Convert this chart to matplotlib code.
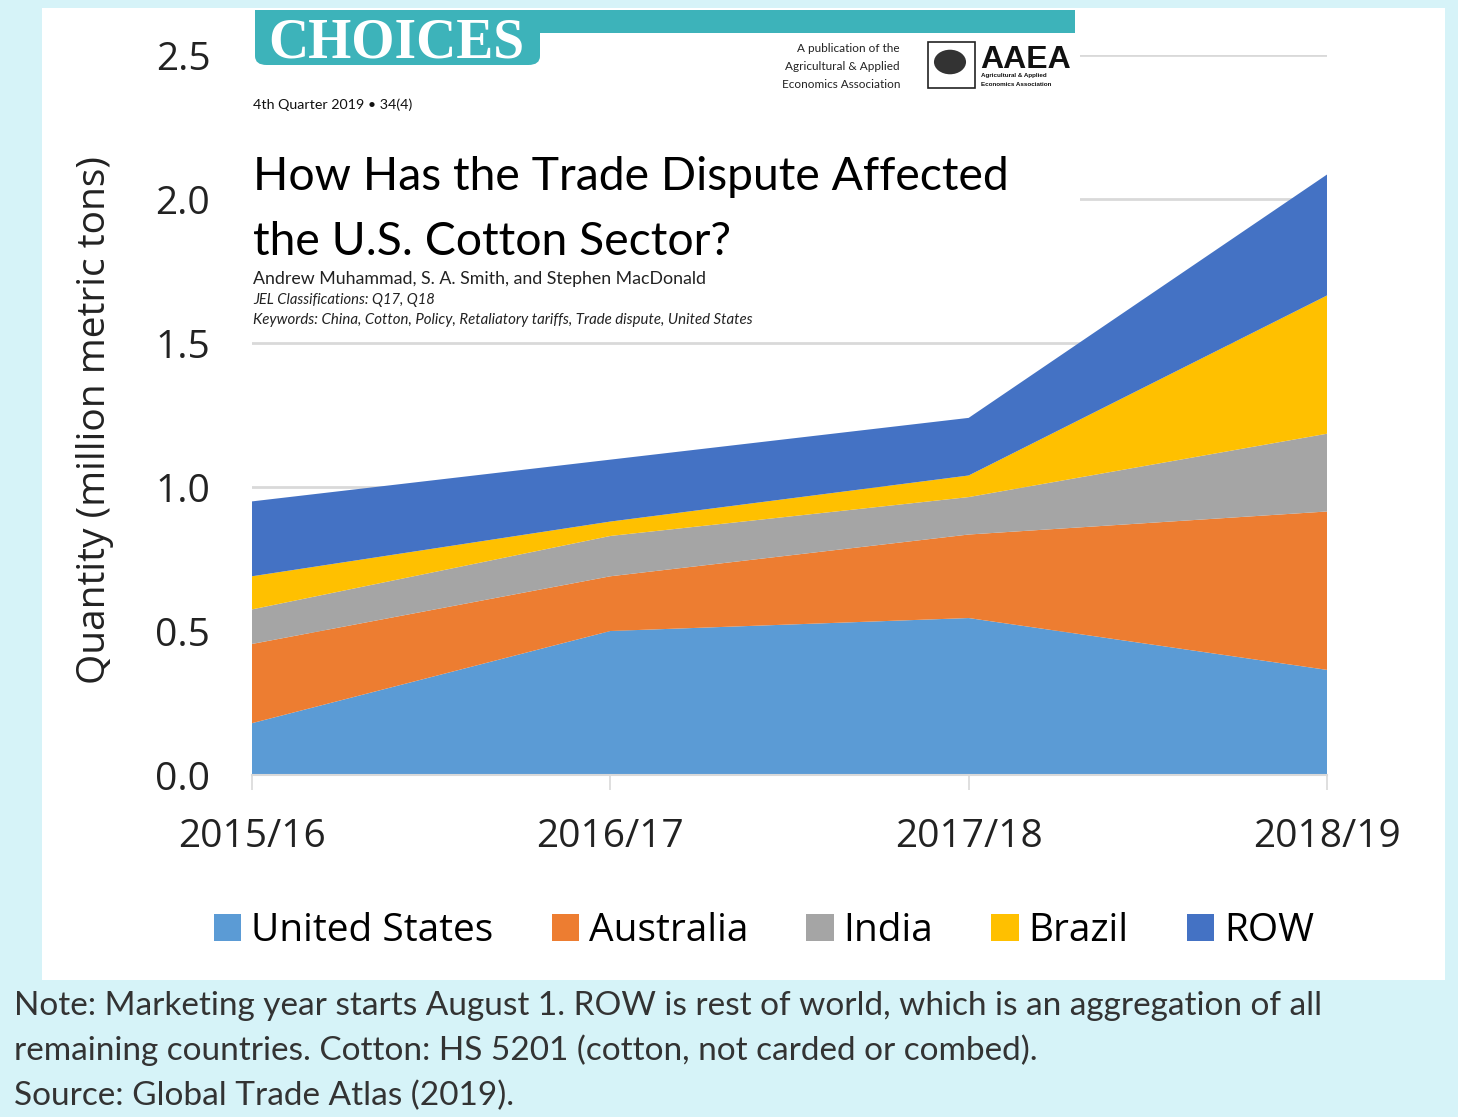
import matplotlib
matplotlib.use("Agg")
import matplotlib.pyplot as plt
from matplotlib.patches import Rectangle, FancyBboxPatch, Patch, Circle

# cotton imports by origin, million metric tons
years = ["2015/16", "2016/17", "2017/18", "2018/19"]
united_states = [0.18, 0.50, 0.545, 0.365]
australia = [0.275, 0.19, 0.29, 0.55]
india = [0.12, 0.14, 0.13, 0.27]
brazil = [0.115, 0.05, 0.075, 0.48]
row = [0.26, 0.215, 0.20, 0.42]
series_names = ["United States", "Australia", "India", "Brazil", "ROW"]
colors = ["#5B9BD5", "#ED7D31", "#A5A5A5", "#FFC000", "#4472C4"]

W, H = 1458, 1117
fig = plt.figure(figsize=(W / 100, H / 100), dpi=100)
fig.patch.set_facecolor("#d6f3f8")


def fx(x):
    return x / W


def fy(y):
    return 1 - y / H


# white chart panel
fig.add_artist(Rectangle((fx(42), fy(980)), fx(1445) - fx(42), fy(8) - fy(980),
                         transform=fig.transFigure, facecolor="white",
                         edgecolor="none", zorder=-1))

ax = fig.add_axes([fx(252), fy(775), fx(1327) - fx(252), fy(55) - fy(775)])
xs = list(range(len(years)))
ax.stackplot(xs, united_states, australia, india, brazil, row,
             colors=colors, labels=series_names, linewidth=0, zorder=2)
ax.set_xlim(0, len(years) - 1)
ax.set_ylim(0, 2.5)
ax.set_yticks([0, 0.5, 1.0, 1.5, 2.0, 2.5])
ax.set_yticklabels(["0.0", "0.5", "1.0", "1.5", "2.0", "2.5"])
ax.set_xticks(xs)
ax.set_xticklabels(years)
ax.grid(axis="y", color="#d9d9d9", linewidth=2, zorder=1)
ax.set_axisbelow(True)
for s in ["left", "right", "top"]:
    ax.spines[s].set_visible(False)
ax.spines["bottom"].set_color("#d9d9d9")
ax.spines["bottom"].set_linewidth(1.5)
ax.tick_params(axis="y", length=0, pad=30, labelsize=28, labelcolor="#222222")
ax.tick_params(axis="x", length=11, width=1.2, color="#d9d9d9", pad=20,
               labelsize=28, labelcolor="#222222")
for lab in ax.get_xticklabels() + ax.get_yticklabels():
    lab.set_fontfamily("Open Sans")
ax.set_ylabel("Quantity (million metric tons)", fontsize=28, family="Open Sans",
              color="#222222")
ax.yaxis.set_label_coords(-0.128, 0.493)

handles = [Patch(facecolor=c, edgecolor="none") for c in colors]
fig.legend(handles, series_names, loc="center", bbox_to_anchor=(fx(764), fy(931)),
           ncol=5, frameon=False, handlelength=0.7, handleheight=0.7,
           handletextpad=0.25, columnspacing=1.5,
           prop={"family": "Open Sans", "size": 28})

# journal header laid over the upper part of the chart
fig.add_artist(Rectangle((fx(238), fy(336)), fx(1080) - fx(238), fy(8) - fy(336),
                         transform=fig.transFigure, facecolor="white",
                         edgecolor="none", zorder=5))
teal = "#3db3ba"
fig.add_artist(Rectangle((fx(255), fy(33)), fx(1075) - fx(255), fy(10) - fy(33),
                         transform=fig.transFigure, facecolor=teal,
                         edgecolor="none", zorder=6))
fig.add_artist(FancyBboxPatch((fx(255), fy(65)), fx(540) - fx(255), fy(20) - fy(65),
                              boxstyle="round,pad=0,rounding_size=0.008",
                              transform=fig.transFigure, facecolor=teal,
                              edgecolor="none", zorder=6))
fig.text(fx(268), fy(58), "CHOICES", family="Liberation Serif", weight="bold",
         size=40, color="white", zorder=7)

for i, line in enumerate(["A publication of the", "Agricultural & Applied",
                          "Economics Association"]):
    fig.text(fx(900), fy(48 + 18 * i), line, family="Lato", size=8.5,
             ha="right", va="center", color="#222222", zorder=7)
fig.add_artist(Rectangle((fx(928), fy(88)), fx(975) - fx(928), fy(42) - fy(88),
                         transform=fig.transFigure, facecolor="white",
                         edgecolor="#222222", linewidth=1.2, zorder=7))
fig.add_artist(Circle((fx(950), fy(62)), 0.011, transform=fig.transFigure,
                      facecolor="#333333", edgecolor="none", zorder=8))
fig.text(fx(980), fy(68), "AAEA", family="Liberation Sans", weight="bold",
         size=23, color="#111111", zorder=7)
fig.text(fx(981), fy(76), "Agricultural & Applied", family="Liberation Sans",
         weight="bold", size=4.5, va="center", color="#111111", zorder=7)
fig.text(fx(981), fy(84), "Economics Association", family="Liberation Sans",
         weight="bold", size=4.5, va="center", color="#111111", zorder=7)

fig.text(fx(253), fy(105), "4th Quarter 2019 \u2022 34(4)", family="Lato",
         size=10.3, va="center", color="#111111", zorder=7)
fig.text(fx(253), fy(190), "How Has the Trade Dispute Affected", family="Lato",
         size=33.3, color="#000000", zorder=7)
fig.text(fx(253), fy(255), "the U.S. Cotton Sector?", family="Lato",
         size=33.3, color="#000000", zorder=7)
fig.text(fx(253), fy(279), "Andrew Muhammad, S. A. Smith, and Stephen MacDonald",
         family="Lato", size=12.8, va="center", color="#222222", zorder=7)
fig.text(fx(253), fy(300), "JEL Classifications: Q17, Q18", family="Lato",
         style="italic", size=10.6, va="center", color="#222222", zorder=7)
fig.text(fx(253), fy(320),
         "Keywords: China, Cotton, Policy, Retaliatory tariffs, Trade dispute, United States",
         family="Lato", style="italic", size=10.8, va="center", color="#222222",
         zorder=7)

notes = ["Note: Marketing year starts August 1. ROW is rest of world, which is an aggregation of all",
         "remaining countries. Cotton: HS 5201 (cotton, not carded or combed).",
         "Source: Global Trade Atlas (2019)."]
for i, line in enumerate(notes):
    fig.text(fx(14), fy(1015 + 45 * i), line, family="Lato", size=24,
             color="#333333")

fig.savefig("out.png", dpi=100, facecolor=fig.get_facecolor())
